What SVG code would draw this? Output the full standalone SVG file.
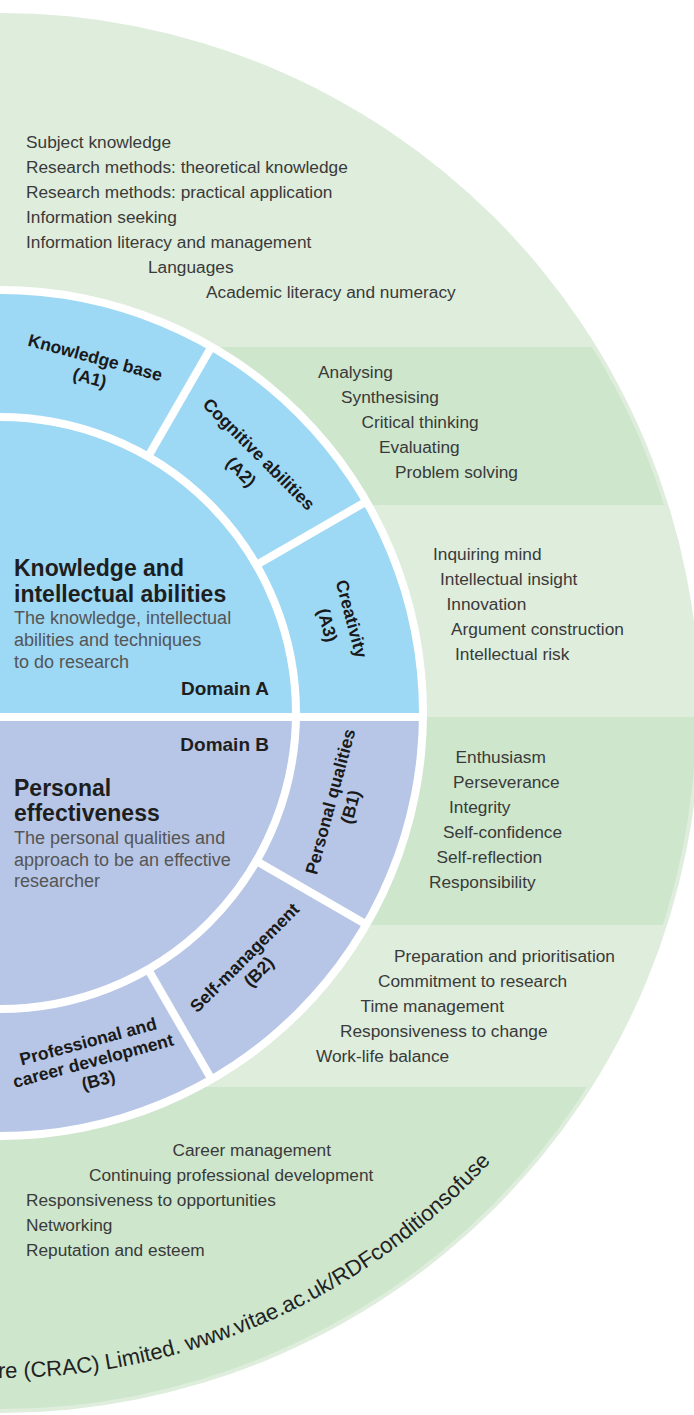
<svg xmlns="http://www.w3.org/2000/svg" width="694" height="1415" viewBox="0 0 694 1415">
<style>
.item{font-family:"Liberation Sans",Arial,sans-serif;font-size:17.3px;fill:#3a3a3a}
.lbl{font-family:"Liberation Sans",Arial,sans-serif;font-size:17.5px;font-weight:bold;fill:#1a1a1a;text-anchor:middle}
.title{font-family:"Liberation Sans",Arial,sans-serif;font-size:23px;font-weight:bold;fill:#1e1e1e}
.sub{font-family:"Liberation Sans",Arial,sans-serif;font-size:18px;fill:#555}
.dom{font-family:"Liberation Sans",Arial,sans-serif;font-size:19px;font-weight:bold;fill:#1e1e1e;text-anchor:end}
.copy{font-family:"Liberation Sans",Arial,sans-serif;font-size:22px;fill:#222}
.gap{stroke:#fff;stroke-width:8;fill:none}
.dA{fill:#9dd8f5}
.dB{fill:#b7c6e6}
</style>
<defs>
<clipPath id="rim"><circle cx="0" cy="713" r="696"/></clipPath>
<path id="arcText" d="M-4,1378 A665,665 0 0 0 575.9,1045.5"/>
</defs>
<rect width="694" height="1415" fill="#fff"/>
<g id="outer-ring">
<circle cx="0" cy="713" r="700" fill="#deeddc"/>
<g clip-path="url(#rim)" fill="#cde6cc">
<rect x="0" y="347" width="694" height="158"/>
<rect x="0" y="717" width="694" height="208"/>
<rect x="0" y="1087" width="694" height="330"/>
</g>
<circle cx="0" cy="713" r="427" fill="#fff"/>
</g>
<g id="domain-shapes">
<path class="dA" d="M0,713 L419,713 A419,419 0 0 0 0,294 Z"/>
<path class="dB" d="M0,713 L419,713 A419,419 0 0 1 0,1132 Z"/>
<rect x="0" y="713" width="424" height="8" fill="#fff"/>
<circle class="gap" cx="0" cy="713" r="296"/>
</g>
<g id="connectors">
<line class="gap" x1="147" y1="458.4" x2="211.5" y2="346.7"/>
<line class="gap" x1="254.6" y1="566" x2="366.3" y2="501.5"/>
<line class="gap" x1="254.6" y1="860" x2="366.3" y2="924.5"/>
<line class="gap" x1="147" y1="967.6" x2="211.5" y2="1079.3"/>
</g>
<g id="domain-a">
<text class="title" x="14" y="576">Knowledge and</text>
<text class="title" x="14" y="602">intellectual abilities</text>
<text class="sub" x="14" y="623.5">The knowledge, intellectual</text>
<text class="sub" x="14" y="645.7">abilities and techniques</text>
<text class="sub" x="14" y="667.5">to do research</text>
<text class="dom" x="269" y="695">Domain A</text>
</g>
<g id="domain-b">
<text class="dom" x="269" y="750.7">Domain B</text>
<text class="title" x="14" y="796">Personal</text>
<text class="title" x="14" y="820.7">effectiveness</text>
<text class="sub" x="14" y="843.5">The personal qualities and</text>
<text class="sub" x="14" y="865.7">approach to be an effective</text>
<text class="sub" x="14" y="887">researcher</text>
</g>
<g id="a1">
<text class="lbl" transform="translate(93.7,363.3) rotate(15)">Knowledge base</text>
<text class="lbl" transform="translate(88.3,383.6) rotate(15)">(A1)</text>
<text class="item" x="26" y="148">Subject knowledge</text>
<text class="item" x="26" y="173">Research methods: theoretical knowledge</text>
<text class="item" x="26" y="198">Research methods: practical application</text>
<text class="item" x="26" y="223">Information seeking</text>
<text class="item" x="26" y="248">Information literacy and management</text>
<text class="item" x="148" y="273">Languages</text>
<text class="item" x="206" y="298">Academic literacy and numeracy</text>
</g>
<g id="a2">
<text class="lbl" transform="translate(254.6,458.4) rotate(45)">Cognitive abilities</text>
<text class="lbl" transform="translate(236.9,476.1) rotate(45)">(A2)</text>
<text class="item" x="318" y="378">Analysing</text>
<text class="item" x="341" y="403">Synthesising</text>
<text class="item" x="361.5" y="428">Critical thinking</text>
<text class="item" x="379" y="453">Evaluating</text>
<text class="item" x="395" y="478">Problem solving</text>
</g>
<g id="a3">
<text class="lbl" transform="translate(345.8,620.3) rotate(75)">Creativity</text>
<text class="lbl" transform="translate(321.7,626.8) rotate(75)">(A3)</text>
<text class="item" x="433" y="560">Inquiring mind</text>
<text class="item" x="440" y="585">Intellectual insight</text>
<text class="item" x="446.5" y="610">Innovation</text>
<text class="item" x="451" y="635">Argument construction</text>
<text class="item" x="455" y="660">Intellectual risk</text>
</g>
<g id="b1">
<text class="lbl" transform="translate(336.1,803.1) rotate(-75)">Personal qualities</text>
<text class="lbl" transform="translate(356.4,808.5) rotate(-75)">(B1)</text>
<text class="item" x="455.5" y="763">Enthusiasm</text>
<text class="item" x="453" y="788">Perseverance</text>
<text class="item" x="449" y="813">Integrity</text>
<text class="item" x="443" y="838">Self-confidence</text>
<text class="item" x="436.5" y="863">Self-reflection</text>
<text class="item" x="429" y="888">Responsibility</text>
</g>
<g id="b2">
<text class="lbl" transform="translate(248.9,961.9) rotate(-45)">Self-management</text>
<text class="lbl" transform="translate(263,976) rotate(-45)">(B2)</text>
<text class="item" x="394" y="962">Preparation and prioritisation</text>
<text class="item" x="378" y="987">Commitment to research</text>
<text class="item" x="360.5" y="1012">Time management</text>
<text class="item" x="340" y="1037">Responsiveness to change</text>
<text class="item" x="316" y="1062">Work-life balance</text>
</g>
<g id="b3">
<text class="lbl" transform="translate(89.6,1047.2) rotate(-15)">Professional and</text>
<text class="lbl" transform="translate(94.7,1066.5) rotate(-15)">career development</text>
<text class="lbl" transform="translate(99.9,1085.8) rotate(-15)">(B3)</text>
<text class="item" x="172.5" y="1156">Career management</text>
<text class="item" x="89" y="1181">Continuing professional development</text>
<text class="item" x="26" y="1206">Responsiveness to opportunities</text>
<text class="item" x="26" y="1231">Networking</text>
<text class="item" x="26" y="1256">Reputation and esteem</text>
</g>
<g id="copyright">
<text class="copy"><textPath href="#arcText" startOffset="2">re (CRAC) Limited. www.vitae.ac.uk/RDFconditionsofuse</textPath></text>
</g>
</svg>
